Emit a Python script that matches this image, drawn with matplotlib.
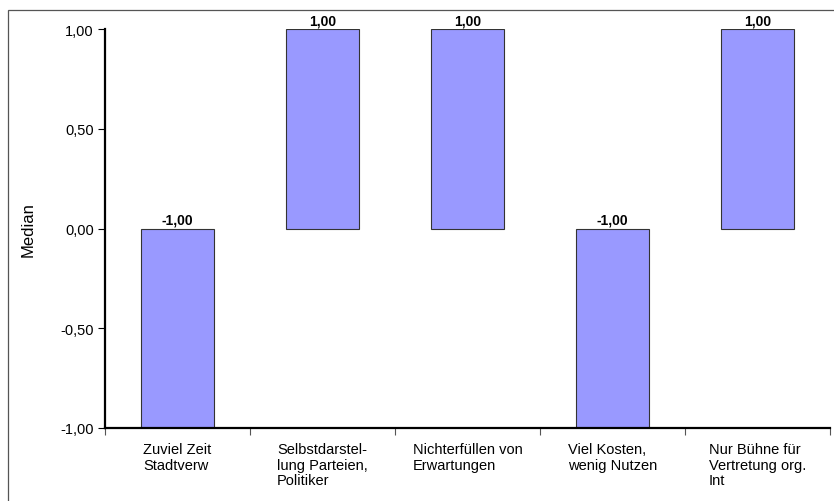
import numpy as np
import matplotlib.pyplot as plt
from matplotlib.patches import Rectangle

categories = ["Zuviel Zeit\nStadtverw",
              "Selbstdarstel-\nlung Parteien,\nPolitiker",
              "Nichterfüllen von\nErwartungen",
              "Viel Kosten,\nwenig Nutzen",
              "Nur Bühne für\nVertretung org.\nInt"]
medians = [-1.00, 1.00, 1.00, -1.00, 1.00]
yticks = [-1.0, -0.5, 0.0, 0.5, 1.0]

plt.rcParams['font.family'] = ['Liberation Sans', 'DejaVu Sans']

fig = plt.figure(figsize=(8.34, 5.02), dpi=100)
ax = fig.add_axes([105/834, 1 - 429/502, 725/834, 399/502])

x = np.arange(len(categories))
ax.bar(x, medians, width=0.5, color='#9999ff', edgecolor='#333333', linewidth=0.8)

# value labels sit above the bar top (or above the zero line for negatives)
for xi, v in zip(x, medians):
    ax.text(xi, max(v, 0) + 0.008, f"{v:.2f}".replace('.', ','),
            ha='center', va='bottom', fontsize=10, fontweight='bold', clip_on=False)

ax.set_xlim(-0.5, len(categories) - 0.5)
ax.set_ylim(-1, 1)
ax.set_yticks(yticks)
ax.set_yticklabels([f"{t:.2f}".replace('.', ',') for t in yticks], fontsize=10.5)
ax.tick_params(axis='y', length=5, width=0.8, direction='out', pad=3)

# x ticks at category boundaries, labels centered beneath each bar
ax.set_xticks(np.arange(len(categories) + 1) - 0.5)
ax.set_xticklabels([])
ax.tick_params(axis='x', length=5, width=0.8, color='#555555', direction='out')
for xi, lab in zip(x, categories):
    ax.text(xi, -1.07, lab, ha='center', va='top', multialignment='left',
            fontsize=10.5, linespacing=1.15, clip_on=False)

ax.set_ylabel("Median", fontsize=12, labelpad=18)

for s in ['top', 'right']:
    ax.spines[s].set_visible(False)
for s in ['left', 'bottom']:
    ax.spines[s].set_linewidth(1.6)
    ax.spines[s].set_color('black')

# outer frame around the chart
fig.patches.append(Rectangle((8/834, -0.2), 1.0, 1.2 - 11/502,
                             transform=fig.transFigure, fill=False,
                             edgecolor='#555555', linewidth=0.9))

fig.savefig("out.png", dpi=100)
